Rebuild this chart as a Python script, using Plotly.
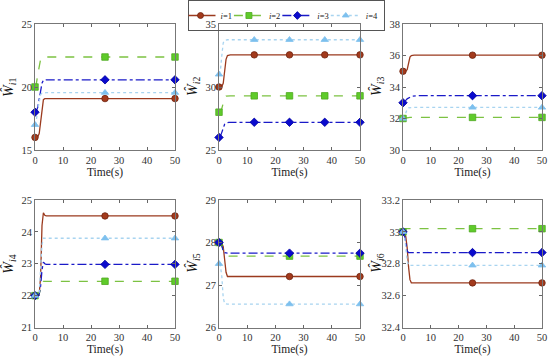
import plotly.graph_objects as go

# time samples (s)
T = [0, 0.5, 1, 1.5, 2, 2.5, 3, 3.5, 4, 6, 12.5, 25, 37.5, 50]

# panel 1: W_i1
W1_1 = [16.0, 16.0, 16.05, 16.3, 17.2, 18.5, 19.0, 19.07, 19.08, 19.08, 19.08, 19.08, 19.08, 19.08]
W1_2 = [20.0, 20.3, 21.0, 21.8, 22.2, 22.35, 22.38, 22.38, 22.38, 22.38, 22.38, 22.38, 22.38, 22.38]
W1_3 = [18.0, 18.1, 18.4, 19.0, 19.7, 20.3, 20.55, 20.57, 20.57, 20.57, 20.57, 20.57, 20.57, 20.57]
W1_4 = [17.0, 17.4, 18.2, 19.0, 19.4, 19.52, 19.55, 19.55, 19.55, 19.55, 19.55, 19.55, 19.55, 19.55]
# panel 2: W_i2
W2_1 = [30.0, 30.0, 30.05, 30.3, 31.2, 32.2, 32.5, 32.55, 32.55, 32.55, 32.55, 32.55, 32.55, 32.55]
W2_2 = [28.0, 28.05, 28.3, 28.8, 29.15, 29.27, 29.3, 29.3, 29.3, 29.3, 29.3, 29.3, 29.3, 29.3]
W2_3 = [26.0, 26.1, 26.4, 26.8, 27.05, 27.15, 27.2, 27.2, 27.2, 27.2, 27.2, 27.2, 27.2, 27.2]
W2_4 = [31.0, 31.3, 32.5, 33.5, 33.7, 33.75, 33.75, 33.75, 33.75, 33.75, 33.75, 33.75, 33.75, 33.75]
# panel 3: W_i3
W3_1 = [35.0, 35.0, 35.02, 35.1, 35.5, 35.9, 36.0, 36.02, 36.02, 36.02, 36.02, 36.02, 36.02, 36.02]
W3_2 = [32.0, 32.02, 32.05, 32.06, 32.07, 32.07, 32.07, 32.07, 32.07, 32.07, 32.07, 32.07, 32.07, 32.07]
W3_3 = [33.0, 33.05, 33.15, 33.25, 33.32, 33.37, 33.4, 33.42, 33.43, 33.45, 33.45, 33.45, 33.45, 33.45]
W3_4 = [32.0, 32.1, 32.35, 32.6, 32.68, 32.7, 32.7, 32.7, 32.7, 32.7, 32.7, 32.7, 32.7, 32.7]
# panel 4: W_i4
W4_1 = [22.0, 22.0, 22.0, 22.02, 22.6, 24.2, 24.6, 24.52, 24.5, 24.5, 24.5, 24.5, 24.5, 24.5]
W4_2 = [22.0, 22.0, 22.0, 22.05, 22.2, 22.4, 22.45, 22.45, 22.45, 22.45, 22.45, 22.45, 22.45, 22.45]
W4_3 = [22.0, 22.0, 22.0, 22.05, 22.3, 22.8, 23.05, 23.0, 22.98, 22.98, 22.98, 22.98, 22.98, 22.98]
W4_4 = [22.0, 22.0, 22.0, 22.1, 22.8, 23.6, 23.8, 23.8, 23.8, 23.8, 23.8, 23.8, 23.8, 23.8]
# panel 5: W_i5
W5_1 = [28.0, 28.0, 27.98, 27.9, 27.6, 27.3, 27.2, 27.2, 27.2, 27.2, 27.2, 27.2, 27.2, 27.2]
W5_2 = [28.0, 27.98, 27.92, 27.8, 27.72, 27.69, 27.68, 27.68, 27.68, 27.68, 27.68, 27.68, 27.68, 27.68]
W5_3 = [28.0, 27.98, 27.92, 27.8, 27.76, 27.75, 27.75, 27.75, 27.75, 27.75, 27.75, 27.75, 27.75, 27.75]
W5_4 = [27.5, 27.45, 27.2, 26.7, 26.56, 26.55, 26.55, 26.55, 26.55, 26.55, 26.55, 26.55, 26.55, 26.55]
# panel 6: W_i6
W6_1 = [33.0, 33.0, 32.97, 32.9, 32.78, 32.7, 32.68, 32.68, 32.68, 32.68, 32.68, 32.68, 32.68, 32.68]
W6_2 = [33.0, 33.01, 33.02, 33.02, 33.02, 33.02, 33.02, 33.02, 33.02, 33.02, 33.02, 33.02, 33.02, 33.02]
W6_3 = [33.0, 32.98, 32.93, 32.88, 32.87, 32.87, 32.87, 32.87, 32.87, 32.87, 32.87, 32.87, 32.87, 32.87]
W6_4 = [33.0, 32.98, 32.9, 32.82, 32.79, 32.79, 32.79, 32.79, 32.79, 32.79, 32.79, 32.79, 32.79, 32.79]

PANELS = [[W1_1, W1_2, W1_3, W1_4], [W2_1, W2_2, W2_3, W2_4], [W3_1, W3_2, W3_3, W3_4],
          [W4_1, W4_2, W4_3, W4_4], [W5_1, W5_2, W5_3, W5_4], [W6_1, W6_2, W6_3, W6_4]]
Y_TITLES = ["1", "2", "3", "4", "5", "6"]
Y_RANGES = [[15, 25], [25, 35], [30, 38], [21, 25], [26, 29], [32.4, 33.2]]
Y_DTICK = [5, 5, 2, 1, 1, 0.2]
MARK_T = [[0, 25, 50], [0, 12.5, 25, 37.5, 50], [0, 25, 50], [0, 25, 50], [0, 25, 50], [0, 25, 50]]
X_TICKS = [0, 10, 20, 30, 40, 50]
SERIES = ["1", "2", "3", "4"]

LINE_COL = ["#9B3A1E", "#7CC242", "#1A1AC8", "#A8D4F0"]
MK_COL = ["#A33A1C", "#5FCB2A", "#0A0ACD", "#7DC0EE"]
MK_LINE = ["#6E2410", "#4EA81F", "#0000A0", "#7DC0EE"]
DASH = ["solid", "dash", "dashdot", "dot"]
SYM = ["circle", "square", "diamond", "triangle-up"]

XDOM = [[35/550, 175/550], [219/550, 360/550], [403/550, 542/550]]
YDOM = [[1-150/360, 1-24/360], [1-327.5/360, 1-200/360]]
FONT = "Liberation Serif"

fig = go.Figure()
layout = {}
annotations = []
for p in range(6):
    ax = "" if p == 0 else str(p + 1)
    xa, ya = "x" + ax, "y" + ax
    for s in range(4):
        vals = PANELS[p][s]
        fig.add_trace(go.Scatter(x=T, y=vals, mode="lines", xaxis=xa, yaxis=ya,
                                 line=dict(color=LINE_COL[s], width=1.3, dash=DASH[s]),
                                 showlegend=False, hoverinfo="skip"))
    for s in range(4):
        vals = PANELS[p][s]
        mx = MARK_T[p]
        my = [vals[T.index(t)] for t in mx]
        fig.add_trace(go.Scatter(x=mx, y=my, mode="markers", xaxis=xa, yaxis=ya,
                                 marker=dict(symbol=SYM[s], size=6.5, color=MK_COL[s],
                                             line=dict(color=MK_LINE[s], width=0.8)),
                                 cliponaxis=False, showlegend=False))
    r, c = divmod(p, 3)
    layout["xaxis" + ax] = dict(domain=XDOM[c], anchor=ya, range=[0, 50], tickvals=X_TICKS,
                                ticks="inside", ticklen=3, tickcolor="#666", showline=True,
                                linecolor="#777", linewidth=1, mirror="ticks", showgrid=False,
                                zeroline=False, automargin=False,
                                tickfont=dict(family=FONT, size=10.5, color="#333"),
                                title=dict(text="Time(s)", standoff=2,
                                           font=dict(family=FONT, size=11.5, color="#222")))
    layout["yaxis" + ax] = dict(domain=YDOM[r], anchor=xa, range=Y_RANGES[p], dtick=Y_DTICK[p],
                                tick0=Y_RANGES[p][0], automargin=False,
                                ticks="inside", ticklen=3, tickcolor="#666", showline=True,
                                linecolor="#777", linewidth=1, mirror="ticks", showgrid=False,
                                zeroline=False, tickfont=dict(family=FONT, size=10.5, color="#333"))
    annotations.append(dict(text="<i>Ŵ</i><sub><i>i</i>" + Y_TITLES[p] + "</sub>",
                            xref=xa + " domain", yref=ya + " domain", x=0, y=0.5,
                            xshift=-26, xanchor="center", yanchor="middle", textangle=-90,
                            showarrow=False, font=dict(family=FONT, size=14, color="#111")))

for s in range(4):
    fig.add_trace(go.Scatter(x=[None], y=[None], mode="lines+markers", xaxis="x2", yaxis="y2",
                             name="<i>i</i>=" + SERIES[s],
                             line=dict(color=LINE_COL[s], width=1.3, dash=DASH[s]),
                             marker=dict(symbol=SYM[s], size=6, color=MK_COL[s],
                                         line=dict(color=MK_LINE[s], width=0.8))))

fig.update_layout(**layout)
fig.update_layout(width=550, height=360, margin=dict(l=0, r=0, t=0, b=0, autoexpand=False),
                  paper_bgcolor="white", plot_bgcolor="white",
                  font=dict(family=FONT), annotations=annotations,
                  legend=dict(orientation="h", x=0.52, xanchor="center", y=1.0, yanchor="top",
                              bgcolor="rgba(255,255,255,0)", bordercolor="#555", borderwidth=1,
                              font=dict(family=FONT, size=8.5, color="#222"),
                              indentation=-8,
                              itemwidth=30, tracegroupgap=0, itemclick=False))
fig.write_html("out.html", config={"displayModeBar": False},
               post_script="document.body.style.margin='0';")
